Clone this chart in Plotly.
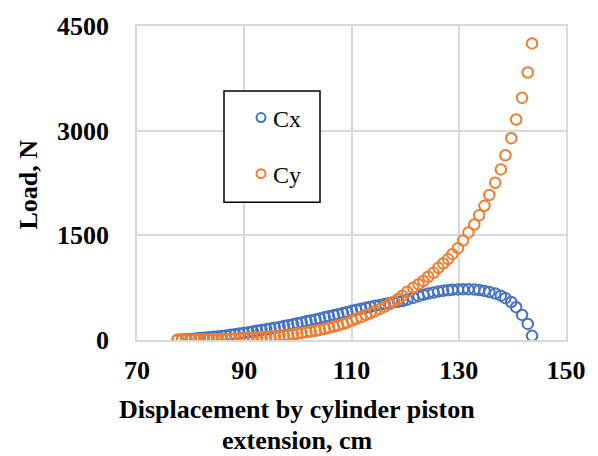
import plotly.graph_objects as go

# Displacement (cm)
disp = [77.6, 78.4, 79.2, 80.0, 80.9, 81.7, 82.5, 83.3, 84.2, 85.0,
        85.8, 86.6, 87.5, 88.3, 89.1, 89.9, 90.8, 91.6, 92.4, 93.2,
        94.1, 94.9, 95.7, 96.6, 97.4, 98.2, 99.1, 99.9, 100.7, 101.6,
        102.4, 103.3, 104.1, 105.0, 105.8, 106.7, 107.5, 108.4, 109.2, 110.1,
        110.9, 111.8, 112.7, 113.5, 114.4, 115.3, 116.2, 117.0, 117.9, 118.7,
        119.5, 120.4, 121.5, 122.5, 123.4, 124.3, 125.3, 126.2, 127.1, 128.0,
        128.8, 129.85, 130.8, 131.8, 132.9, 133.8, 134.8, 135.7, 136.8, 137.85,
        138.7, 139.8, 140.7, 141.8, 142.87, 143.67]

# Load Cx (N)
cx = [3, 7, 11, 15, 21, 27, 33, 39, 45, 50,
      58, 66, 75, 84, 93, 100, 111, 122, 133, 143,
      154, 164, 175, 188, 200, 212, 226, 239, 252, 267,
      280, 294, 308, 325, 339, 355, 370, 386, 402, 420,
      434, 449, 463, 476, 490, 503, 516, 527, 539, 549,
      558, 580, 605, 628, 648, 665, 681, 694, 705, 714,
      720, 725, 727, 727, 723, 716, 704, 688, 665, 635,
      600, 545, 470, 360, 230, 60]

# Load Cy (N)
cy = [2, 3, 4, 5, 6, 7, 8, 10, 11, 12,
      14, 16, 18, 20, 22, 25, 28, 32, 35, 39,
      44, 49, 54, 60, 66, 73, 82, 91, 101, 112,
      122, 133, 145, 160, 175, 192, 208, 228, 248, 280,
      303, 330, 357, 383, 413, 445, 478, 510, 548, 588,
      635, 691, 748, 800, 846, 907, 963, 1034, 1096, 1160,
      1230, 1316, 1425, 1542, 1655, 1787, 1923, 2078, 2253, 2445,
      2648, 2892, 3160, 3470, 3833, 4250]

series_names = ["Cx", "Cy"]
x_ticks = [70, 90, 110, 130, 150]
y_ticks = [0, 1500, 3000, 4500]

BLUE = "#4472C4"
ORANGE = "#ED7D31"
GRID = "#D9D9D9"
FONT = "Liberation Serif"
colors = [BLUE, ORANGE]

fig = go.Figure()
for name, vals, col in zip(series_names, [cx, cy], colors):
    fig.add_trace(go.Scatter(x=disp, y=vals, mode="markers", name=name,
                             showlegend=False,
                             marker=dict(symbol="circle-open", size=10.5,
                                         color=col, line=dict(width=2, color=col))))

W, H = 598, 456
L, R, T, B = 137, 32, 21, 116
pw = W - L - R
ph = H - T - B

def px_x(p):
    return (p - L) / pw

def px_y(p):
    return (H - B - p) / ph

shapes = [dict(type="rect", xref="paper", yref="paper",
               x0=px_x(224), x1=px_x(320), y0=px_y(200), y1=px_y(87),
               line=dict(color="black", width=1.5), fillcolor="white",
               layer="above")]
annotations = []
for i, (name, col) in enumerate(zip(series_names, colors)):
    cyp = 114 + i * 57
    shapes.append(dict(type="circle", xref="paper", yref="paper",
                       x0=px_x(261 - 4.5), x1=px_x(261 + 4.5),
                       y0=px_y(cyp + 4.5), y1=px_y(cyp - 4.5),
                       line=dict(color=col, width=2), fillcolor="white",
                       layer="above"))
    annotations.append(dict(text=name, xref="paper", yref="paper",
                            x=px_x(271), y=px_y(cyp + 1), xanchor="left",
                            yanchor="middle", showarrow=False,
                            font=dict(family=FONT, size=24, color="black")))

annotations += [
    dict(text="<b>Displacement by cylinder piston</b>",
         xref="paper", yref="paper", x=px_x(297), y=px_y(411),
         xanchor="center", yanchor="middle", showarrow=False,
         font=dict(family=FONT, size=26, color="black")),
    dict(text="<b>extension, cm</b>",
         xref="paper", yref="paper", x=px_x(297), y=px_y(442),
         xanchor="center", yanchor="middle", showarrow=False,
         font=dict(family=FONT, size=26, color="black")),
    dict(text="<b>Load, N</b>", textangle=-90,
         xref="paper", yref="paper", x=px_x(28), y=px_y(182),
         xanchor="center", yanchor="middle", showarrow=False,
         font=dict(family=FONT, size=26, color="black")),
]

fig.update_layout(
    width=W, height=H,
    margin=dict(l=L, r=R, t=T, b=B),
    paper_bgcolor="white", plot_bgcolor="white",
    font=dict(family=FONT, color="black"),
    showlegend=False,
    xaxis=dict(range=[70, 150], tickvals=x_ticks, ticktext=[str(v) for v in x_ticks],
               showgrid=True, gridcolor=GRID, gridwidth=1.5,
               showline=True, linecolor=GRID, linewidth=1.5, mirror=True,
               zeroline=False, ticks="", ticklabelstandoff=6,
               tickfont=dict(family=FONT, size=26, color="black", weight="bold")),
    yaxis=dict(range=[0, 4500], tickvals=y_ticks, ticktext=[str(v) for v in y_ticks],
               showgrid=True, gridcolor=GRID, gridwidth=1.5,
               showline=True, linecolor=GRID, linewidth=1.5, mirror=True,
               zeroline=False, ticks="", ticklabelstandoff=21,
               tickfont=dict(family=FONT, size=26, color="black", weight="bold")),
    shapes=shapes,
    annotations=annotations,
)

fig.write_html("out.html")
